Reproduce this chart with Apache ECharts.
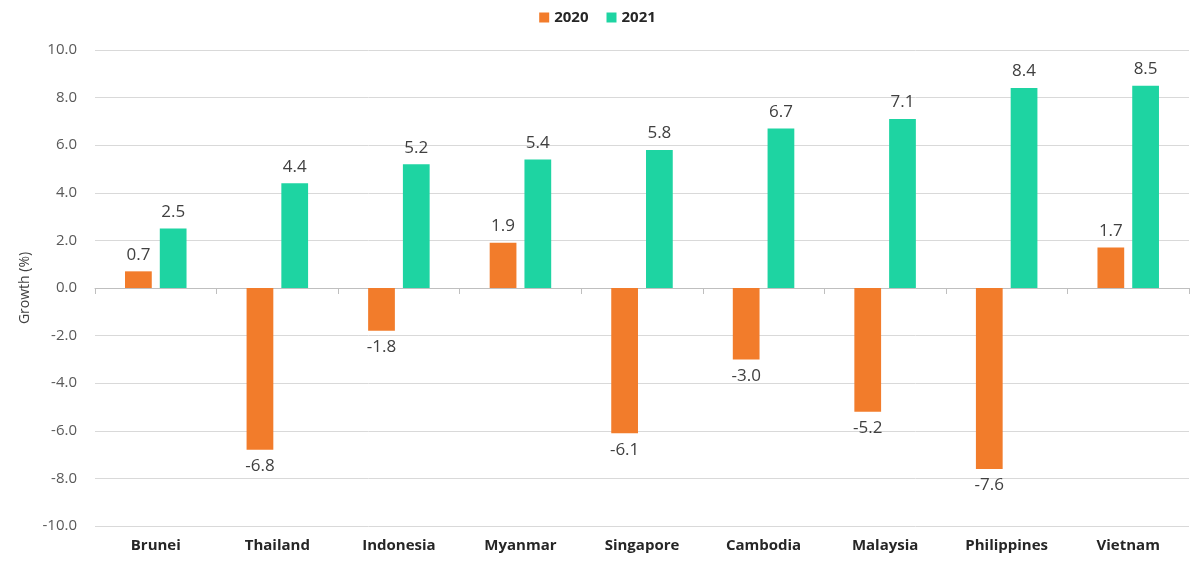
<!DOCTYPE html>
<html><head><meta charset="utf-8">
<script src="https://cdn.jsdelivr.net/npm/echarts@6/dist/echarts.min.js"></script>
<style>html,body{margin:0;padding:0;background:#fff}#c{width:1195px;height:567px}</style>
</head><body><div id="c"></div>
<script>
const categories = ["Brunei","Thailand","Indonesia","Myanmar","Singapore","Cambodia","Malaysia","Philippines","Vietnam"];
const values2020 = [0.7,-6.8,-1.8,1.9,-6.1,-3.0,-5.2,-7.6,1.7];
const values2021 = [2.5,4.4,5.2,5.4,5.8,6.7,7.1,8.4,8.5];
const seriesNames = ["2020","2021"];

const chart = echarts.init(document.getElementById('c'));
const lbl = {show:true,position:'outside',formatter:p=>p.value.toFixed(1),color:'#404040',fontSize:17,fontFamily:'Open Sans',distance:8};
chart.setOption({
  animation:false,
  legend:{top:5,left:'center',itemWidth:10,itemHeight:10,itemGap:18,icon:'rect',
    textStyle:{fontSize:15,fontWeight:'bold',color:'#262626',fontFamily:'Open Sans'},data:seriesNames},
  grid:{left:95,right:6,top:50,bottom:41,containLabel:false},
  xAxis:[{type:'category',data:categories,
    axisLine:{onZero:true,lineStyle:{color:'#bfbfbf'}},
    axisTick:{show:true,length:6,lineStyle:{color:'#bfbfbf'}},
    axisLabel:{show:false},
    position:'bottom'},
    {type:'category',data:categories,position:'bottom',
    axisLine:{show:false},axisTick:{show:false},
    axisLabel:{interval:0,fontSize:15,fontWeight:'bold',color:'#262626',fontFamily:'Open Sans',margin:12}}],
  yAxis:{type:'value',min:-10,max:10,interval:2,
    name:'Growth (%)',nameLocation:'middle',nameGap:62,nameRotate:90,
    nameTextStyle:{fontSize:14,color:'#404040',fontFamily:'Open Sans'},
    axisLabel:{formatter:v=>v.toFixed(1),fontSize:15,color:'#595959',fontFamily:'Open Sans',margin:18},
    splitLine:{lineStyle:{color:'#d9d9d9'}},axisLine:{show:false},axisTick:{show:false}},
  series:[
    {name:seriesNames[0],type:'bar',data:values2020,barWidth:'22%',barGap:'30%',
      itemStyle:{color:'#F27C2B'},label:lbl},
    {name:seriesNames[1],type:'bar',data:values2021,barWidth:'22%',barGap:'30%',
      itemStyle:{color:'#1ED4A2'},label:lbl}
  ]
});
</script></body></html>
